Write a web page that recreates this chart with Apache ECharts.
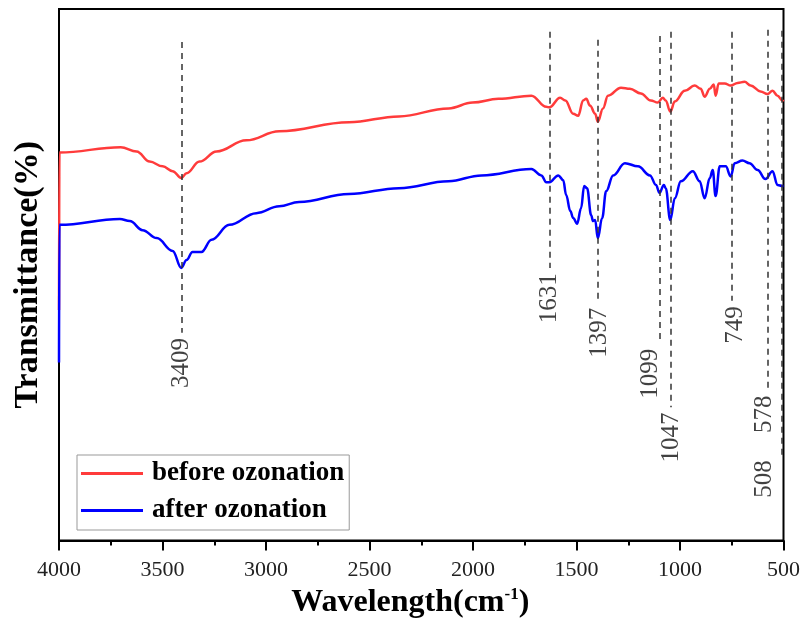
<!DOCTYPE html>
<html>
<head>
<meta charset="utf-8">
<script src="https://cdn.jsdelivr.net/npm/echarts@6/dist/echarts.min.js"></script>
<style>
html,body{margin:0;padding:0;background:#fff;}
#chart{width:803px;height:624px;}
</style>
</head>
<body>
<div id="chart"></div>
<script>
// ---- data ----
var beforeWn = [4000,3998,3702,3625,3562,3499,3451,3409,3384,3321,3239,3095,2936,2599,2358,2118,2002,1877,1718,1646,1631,1579,1554,1516,1492,1468,1453,1434,1410,1397,1372,1348,1285,1242,1189,1141,1107,1083,1069,1047,1025,977,929,900,881,856,837,828,813,784,755,722,688,659,611,577,553,529,505,500];
var beforeT = [43.4,73.0,74.0,73.2,71.3,70.4,69.5,68.2,69.1,71.3,73.2,75.3,77.0,78.7,79.8,81.3,82.4,83.1,83.7,81.6,81.5,83.3,82.8,80.3,79.9,82.8,83.1,81.8,80.3,78.8,81.3,83.7,85.2,85.0,84.1,82.8,82.4,83.3,82.8,80.7,82.6,84.6,85.6,85.0,83.5,85.0,85.8,83.7,86.0,86.0,85.6,86.1,86.3,85.6,84.5,84.0,84.6,83.7,82.8,82.6];
var afterWn = [4000,3998,3706,3658,3596,3528,3451,3409,3384,3355,3312,3263,3177,3047,2936,2840,2599,2358,2118,1959,1718,1670,1646,1631,1588,1564,1550,1530,1516,1497,1478,1463,1449,1429,1420,1410,1397,1376,1357,1323,1266,1203,1145,1116,1099,1078,1069,1047,1025,996,938,905,881,856,842,828,808,779,755,736,698,664,625,587,553,529,505,500];
var afterT = [33.5,59.4,60.5,60.1,58.4,56.9,54.5,51.3,52.8,54.3,54.3,56.6,59.4,61.6,62.9,63.7,65.2,66.3,67.6,68.7,69.9,68.7,67.4,67.4,68.7,67.8,65.0,62.0,60.7,59.6,62.5,66.7,66.3,61.2,60.1,60.3,56.9,60.7,65.7,68.7,71.0,70.4,68.7,66.9,65.4,66.9,66.3,60.3,64.4,67.6,69.5,67.6,64.4,68.2,69.7,64.8,70.4,70.4,68.5,71.0,71.5,71.0,69.7,68.0,69.5,66.9,66.7,66.7];
var seriesNames = ['before ozonation', 'after ozonation'];
var peakWn = [3409,1631,1397,1099,1047,749,578,508];
var peakLabels = ['3409','1631','1397','1099','1047','749','578','508'];
var lineTop = [93.8,95.7,94.2,94.9,95.7,95.7,96.1,95.9];
var lineBottom = [39.1,51.3,44.8,37.1,25.1,45.1,28.3,16.1];
var xTicks = [4000,3500,3000,2500,2000,1500,1000,500];

// ---- build ----
function pairs(xs, ys){ return xs.map(function(x,i){ return [x, ys[i]]; }); }
// horizontal nudges of the rotated peak labels (screen px)
var labelShift = [0,0,2,-9,1,3,-3,-17];

var markLines = peakWn.map(function(w,i){
  return [{coord:[w, lineTop[i]]},{coord:[w, lineBottom[i]]}];
});
var labelPts = peakWn.map(function(w,i){
  return {value:[w, lineBottom[i]-1], name: peakLabels[i], label:{offset:[0, labelShift[i]]}};
});

var chart = echarts.init(document.getElementById('chart'), null, {renderer:'canvas'});
chart.setOption({
  animation:false,
  backgroundColor:'#fff',
  grid:{left:59, right:17, top:9, bottom:80, show:true, borderColor:'#000', borderWidth:2, backgroundColor:'transparent'},
  legend:{
    data:seriesNames,
    orient:'vertical',
    left:77, top:455,
    padding:[5,5,6,4],
    itemGap:10,
    itemWidth:62, itemHeight:3,
    icon:'rect',
    borderColor:'#999', borderWidth:1,
    textStyle:{fontFamily:'Liberation Serif', fontWeight:'bold', fontSize:27, color:'#000', padding:[0,0,0,4]}
  },
  xAxis:{
    type:'value', min:500, max:4000, interval:500, inverse:true,
    name:'{t|Wavelength(cm}{s|-1}{t|)}',
    nameLocation:'middle', nameGap:34,
    nameTextStyle:{padding:[0,22,0,0], rich:{
      t:{fontFamily:'Liberation Serif', fontWeight:'bold', fontSize:32, color:'#000'},
      s:{fontFamily:'Liberation Serif', fontWeight:'bold', fontSize:17, color:'#000', verticalAlign:'top', padding:[0,0,16,0]}
    }},
    axisLine:{show:true, lineStyle:{color:'#000', width:2}},
    axisTick:{show:true, length:10, lineStyle:{color:'#000', width:2}},
    minorTick:{show:true, splitNumber:2, length:5, lineStyle:{color:'#000', width:2}},
    splitLine:{show:false},
    axisLabel:{fontFamily:'Liberation Serif', fontSize:22, color:'#222', margin:19,
      formatter:function(v){ return xTicks.indexOf(v) >= 0 ? String(v) : ''; }}
  },
  yAxis:{
    type:'value', min:0, max:100,
    name:'Transmittance(%)', nameLocation:'middle', nameGap:14,
    nameTextStyle:{fontFamily:'Liberation Serif', fontWeight:'bold', fontSize:34, color:'#000'},
    axisLine:{show:true, lineStyle:{color:'#000', width:2}},
    axisTick:{show:false}, axisLabel:{show:false}, splitLine:{show:false}
  },
  series:[
    {name:seriesNames[0], type:'line', data:pairs(beforeWn, beforeT), showSymbol:false, smooth:0.4, smoothMonotone:'x',
      lineStyle:{color:'#ff3b3b', width:2.5}, itemStyle:{color:'#ff3b3b'}},
    {name:seriesNames[1], type:'line', data:pairs(afterWn, afterT), showSymbol:false, smooth:0.4, smoothMonotone:'x',
      lineStyle:{color:'#0000ff', width:2.5}, itemStyle:{color:'#0000ff'}},
    {name:'peaks', type:'scatter', data:labelPts, symbolSize:0, silent:true,
      label:{show:true, position:'inside', rotate:90, align:'right', verticalAlign:'middle',
        formatter:function(p){ return p.name; },
        fontFamily:'Liberation Serif', fontSize:25, color:'#111'},
      markLine:{silent:true, symbol:'none', data:markLines, label:{show:false},
        lineStyle:{color:'#333', type:[6,5], width:1.5}}
    }
  ]
});
</script>
</body>
</html>
